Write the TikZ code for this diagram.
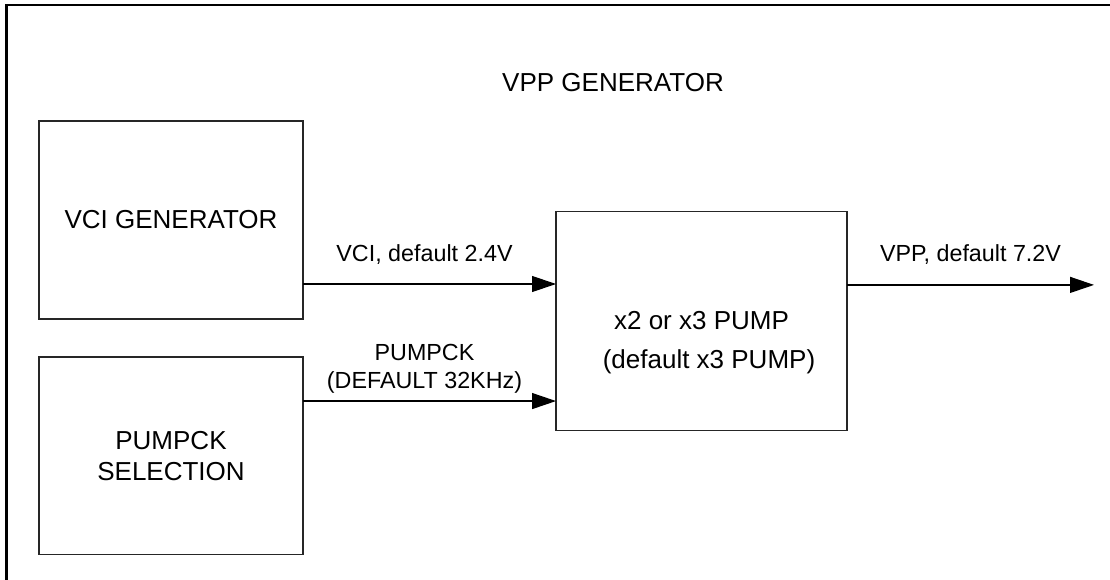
\documentclass[tikz,border=0pt]{standalone}
\usepackage{fontspec}
\setmainfont{Liberation Sans}
\usetikzlibrary{positioning,arrows.meta}
\tikzset{
    boxtext/.style={inner sep=0pt, align=center, font=\fontsize{26}{31}\selectfont},
    block/.style={boxtext, draw=black!85, line width=1.2pt, rectangle, outer sep=0pt},
    sig/.style={line width=1.2pt, -{Triangle[length=24pt,width=16pt]}},
    lbl/.style={inner sep=0pt, anchor=south, align=center, font=\fontsize{23.3}{28}\selectfont},
}
\begin{document}
\begin{tikzpicture}[x=1pt,y=-1pt]
        \useasboundingbox (0,0) rectangle (1110,580);
        \draw[line width=2.5pt] (6.5,600) -- (6.5,5) -- (1120,5);
        \node[boxtext] (title) at (613,82.5) {VPP GENERATOR};
        \node[block, minimum width=264pt, minimum height=198pt] (vcigen) at (171,220) {VCI GENERATOR};
        \node[block, minimum width=264pt, minimum height=197.5pt, below=38pt of vcigen] (pumpsel) {PUMPCK\\SELECTION};
        \node[block, minimum width=291pt, minimum height=218.5pt] (pump) at (701.5,320.9) {};
        \node[boxtext] (pumptxt) at ([yshift=-22pt]pump.center) {x2 or x3 PUMP\\[8pt]\hspace*{15pt}(default x3 PUMP)};
        \coordinate (vciout) at ([yshift=-64pt]vcigen.east);
        \coordinate (ckout) at ([yshift=54.7pt]pumpsel.east);
        \coordinate (vppout) at ([yshift=36pt]pump.east);
        \coordinate (vppend) at (1094,285);
        \draw[sig] (vciout) -- (vciout -| pump.west) node[lbl, midway, xshift=-5pt, yshift=18.5pt] {VCI, default 2.4V};
        \draw[sig] (ckout) -- (ckout -| pump.west) node[lbl, midway, xshift=-5pt, yshift=7pt] {PUMPCK\\(DEFAULT 32KHz)};
        \draw[sig] (vppout) -- (vppout -| vppend) node[lbl, midway, yshift=19.5pt] {VPP, default 7.2V};
    \end{tikzpicture}
\end{document}
